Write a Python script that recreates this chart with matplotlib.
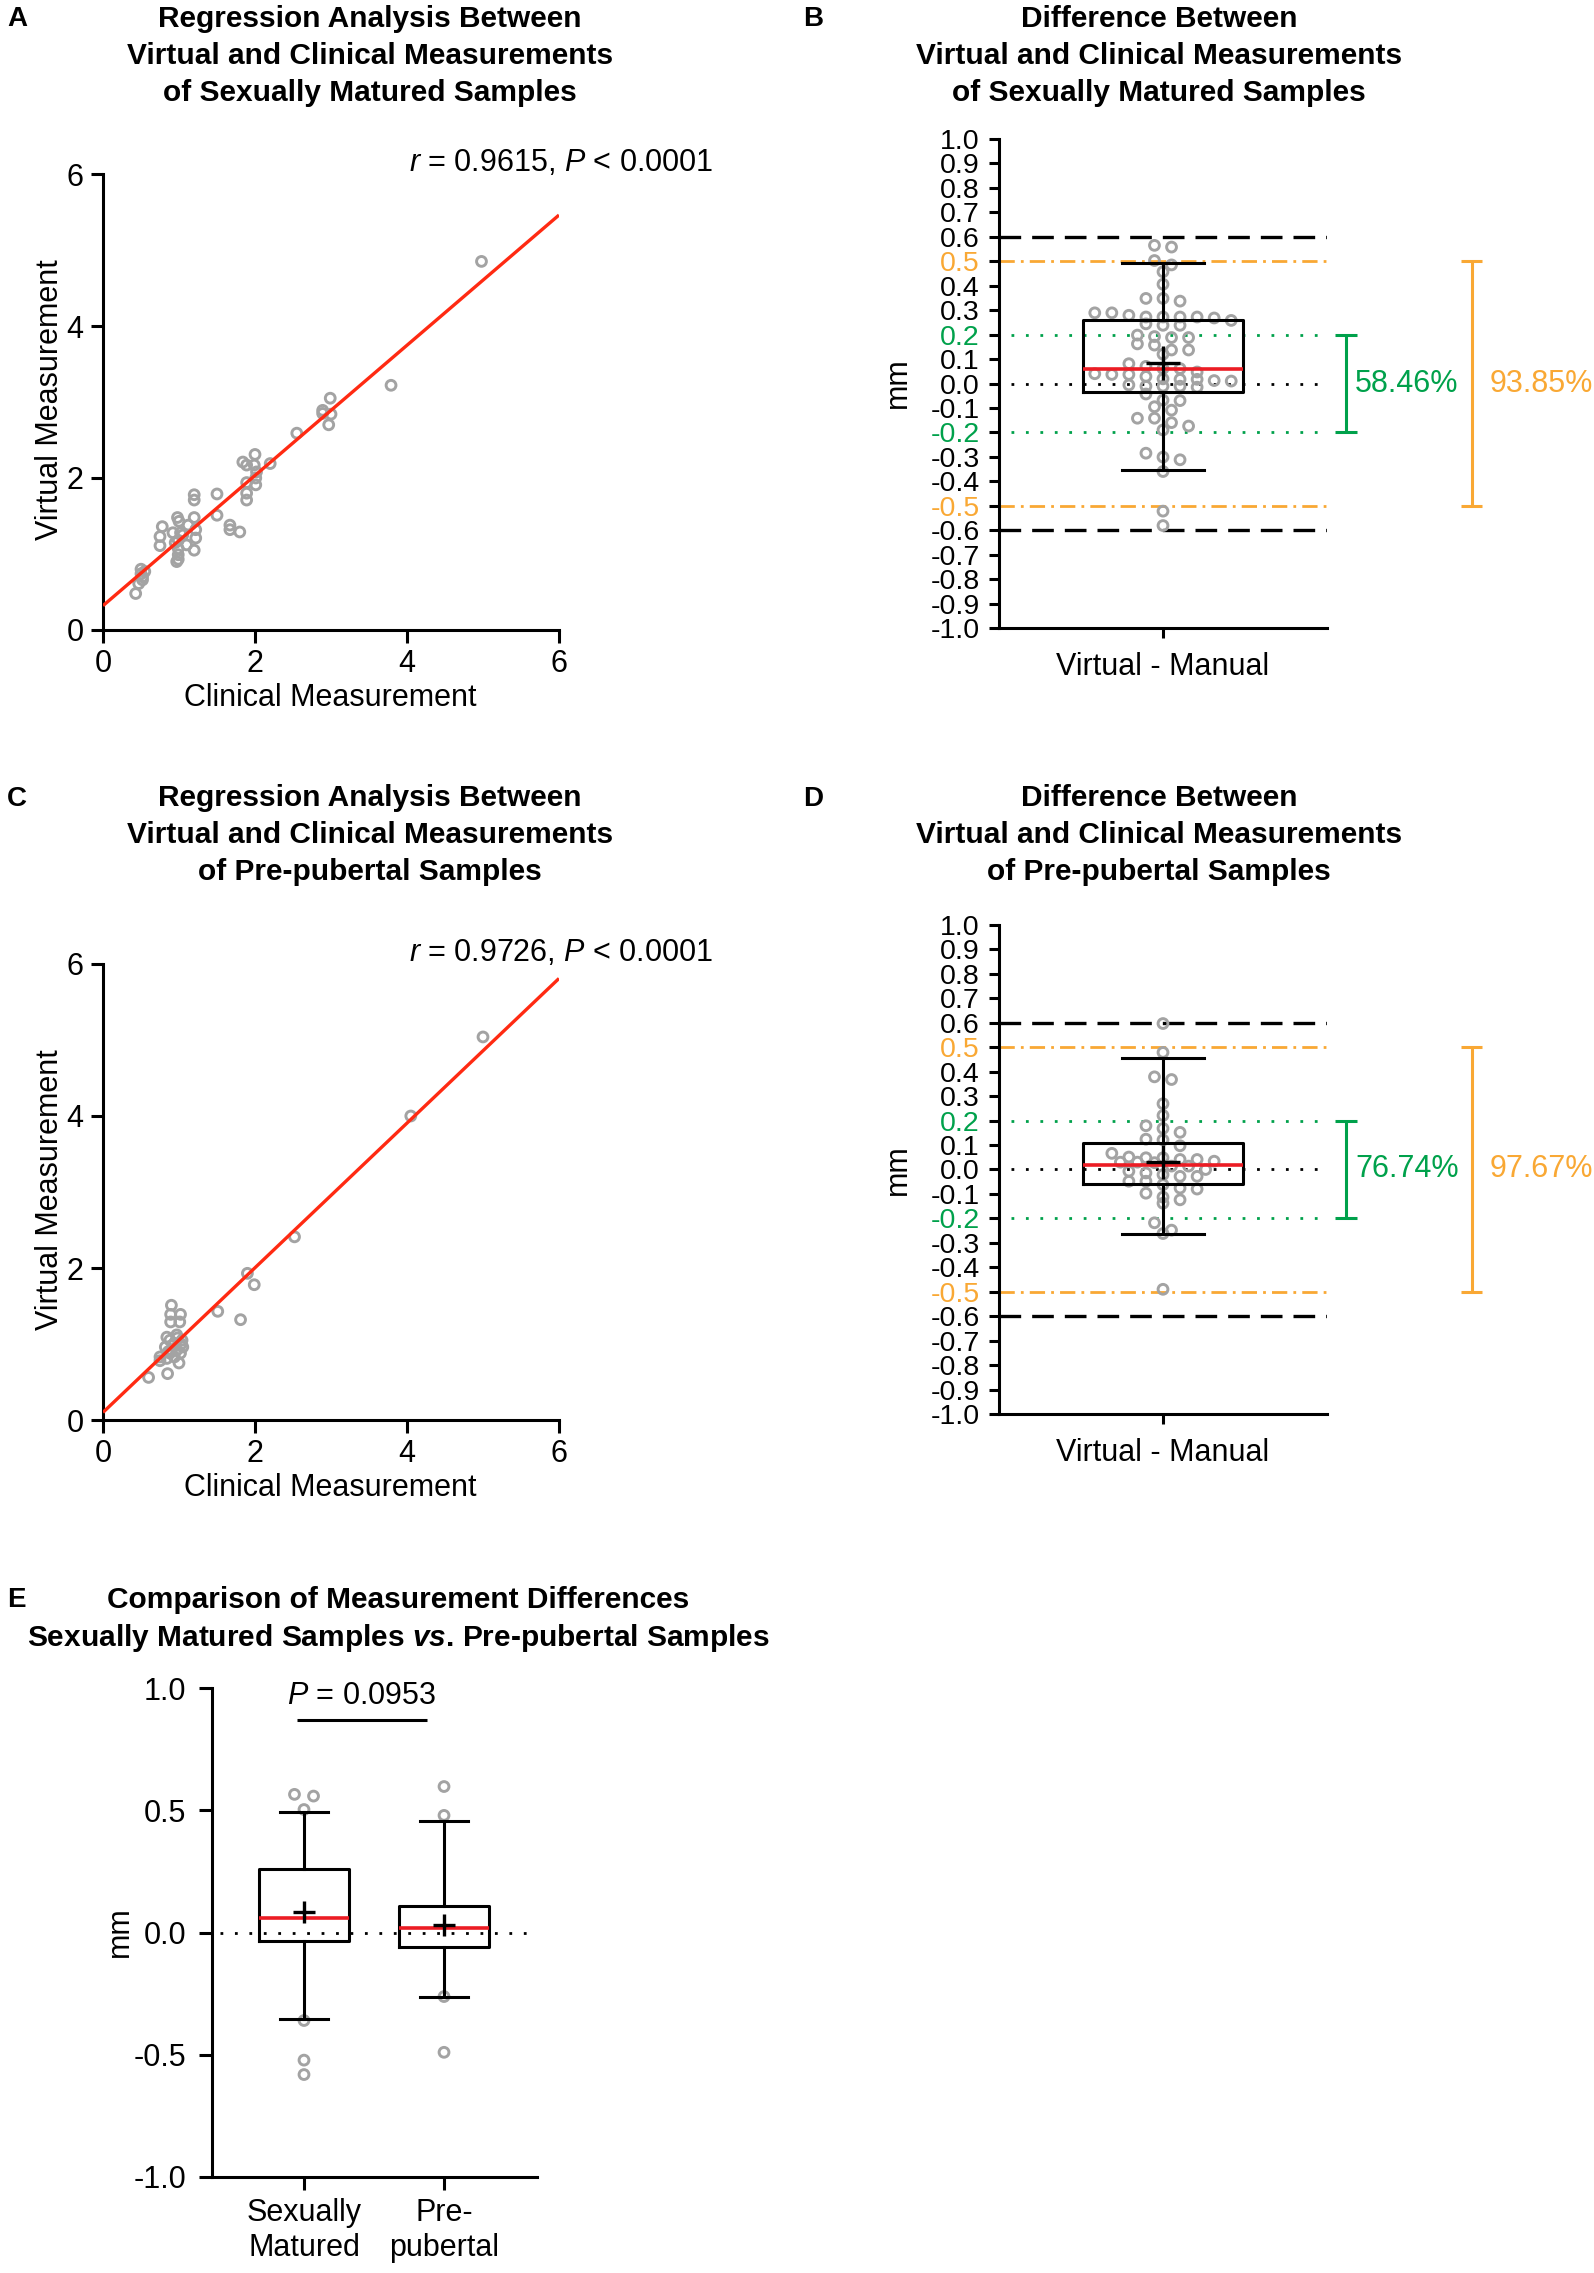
import numpy as np
import matplotlib
matplotlib.use('Agg')
import matplotlib.pyplot as plt

plt.rcParams['font.family'] = ['Liberation Sans', 'DejaVu Sans']
plt.rcParams['mathtext.fontset'] = 'custom'
plt.rcParams['mathtext.rm'] = 'Liberation Sans'
plt.rcParams['mathtext.it'] = 'Liberation Sans:italic'
plt.rcParams['mathtext.bf'] = 'Liberation Sans:bold'
plt.rcParams['mathtext.bfit'] = 'Liberation Sans:italic:bold'

# ---------------- data ----------------
# Panel A: sexually matured, clinical vs virtual
clin_a = [4.98, 3.79, 2.99, 2.89, 2.89, 3.00, 2.97, 2.55, 2.20, 2.00, 1.84, 1.89, 1.99, 2.02,
          2.01, 1.89, 2.01, 1.89, 1.89, 1.50, 1.50, 1.20, 1.20, 1.67, 1.67, 1.80, 1.20, 1.22,
          1.22, 1.20, 0.98, 1.00, 1.12, 0.92, 1.02, 0.78, 0.75, 0.75, 1.10, 0.99, 0.99, 0.99,
          0.99, 0.97, 0.50, 0.50, 0.52, 0.47, 0.43, 0.55, 0.52, 1.05, 0.95]
virt_a = [4.85, 3.22, 3.05, 2.89, 2.85, 2.84, 2.70, 2.59, 2.19, 2.31, 2.21, 2.17, 2.17, 2.08,
          2.00, 1.94, 1.91, 1.80, 1.71, 1.79, 1.51, 1.78, 1.71, 1.38, 1.32, 1.29, 1.48, 1.32,
          1.21, 1.05, 1.48, 1.43, 1.38, 1.28, 1.28, 1.36, 1.23, 1.11, 1.12, 1.18, 1.07, 0.99,
          0.93, 0.90, 0.80, 0.74, 0.66, 0.61, 0.48, 0.77, 0.70, 1.25, 1.15]
fit_x = [0, 6]
fit_a = [0.32, 5.46]
r_text_a = r'$\mathit{r}$ = 0.9615, $\mathit{P}$ < 0.0001'

# Panel C: pre-pubertal, clinical vs virtual
clin_c = [5.00, 4.05, 2.52, 1.90, 1.99, 1.51, 1.81, 0.90, 0.89, 1.02, 0.89, 1.01, 0.84, 0.97,
          0.88, 1.04, 0.82, 0.94, 1.05, 0.97, 0.88, 1.02, 0.75, 0.75, 0.84, 0.94, 1.00, 0.85,
          0.60, 0.92, 0.98, 0.86, 1.03]
virt_c = [5.04, 4.00, 2.41, 1.93, 1.78, 1.43, 1.32, 1.51, 1.39, 1.39, 1.29, 1.29, 1.09, 1.12,
          1.05, 1.05, 0.96, 1.01, 0.96, 0.92, 0.88, 0.88, 0.83, 0.78, 0.81, 0.83, 0.75, 0.61,
          0.56, 0.98, 1.08, 0.90, 1.00]
fit_c = [0.10, 5.81]
r_text_c = r'$\mathit{r}$ = 0.9726, $\mathit{P}$ < 0.0001'

# Panel B: differences (virtual - manual), sexually matured
diff_b = [0.558, 0.565, 0.503, 0.485, 0.457, 0.406, 0.348, 0.337, 0.348,
          0.272, 0.272, 0.272, 0.279, 0.289, 0.268, 0.289, 0.258, 0.272,
          0.238, 0.238, 0.244,
          0.188, 0.198, 0.192, 0.188,
          0.162, 0.157, 0.137, 0.137,
          0.120,
          0.061, 0.070, 0.061, 0.081,
          0.037, 0.047, 0.040, 0.029, 0.037,
          0.019, 0.012, 0.010, 0.017, 0.017,
          -0.011, -0.015, -0.006, -0.011, -0.011,
          -0.043,
          -0.068, -0.070,
          -0.109, -0.095,
          -0.142, -0.142,
          -0.174, -0.160,
          -0.190,
          -0.285,
          -0.312, -0.301,
          -0.360,
          -0.522, -0.581]
# Panel D: differences, pre-pubertal
diff_d = [0.597, 0.479, 0.368, 0.379, 0.269, 0.221, 0.179, 0.168, 0.152, 0.124, 0.121, 0.097,
          0.066, 0.048,
          0.051, 0.041, 0.041, 0.028, 0.034, 0.014, 0.030, 0.048, 0.030,
          0.014, -0.014,
          0.000, -0.007,
          -0.028, -0.021, -0.028,
          -0.048, -0.062, -0.048,
          -0.080, -0.076, -0.097,
          -0.124, -0.113, -0.138,
          -0.218,
          -0.262, -0.248,
          -0.490]

# box statistics: q1, median, q3, mean, lower whisker, upper whisker
box_matured = dict(q1=-0.035, med=0.058, q3=0.258, mean=0.082, whislo=-0.352, whishi=0.493)
box_pre = dict(q1=-0.059, med=0.019, q3=0.110, mean=0.030, whislo=-0.263, whishi=0.455)

pct_b = ['58.46%', '93.85%']
pct_d = ['76.74%', '97.67%']
limit_green = 0.2
limit_orange = 0.5
limit_black = 0.6

groups_e = ['Sexually\nMatured', 'Pre-\npubertal']
fliers_matured = [0.565, 0.558, 0.503, -0.360, -0.522, -0.581]
fliers_pre = [0.597, 0.479, -0.262, -0.490]
p_text_e = r'$\mathit{P}$ = 0.0953'

ticks_reg = [0, 2, 4, 6]
ticks_diff = np.round(np.linspace(-1, 1, 21), 1)
ticks_e = [-1.0, -0.5, 0.0, 0.5, 1.0]

# ---------------- style ----------------
GRAY = '#a3a3a3'
RED_FIT = '#ff2a12'
RED_MED = '#ec1c24'
GREEN = '#00a14b'
ORANGE = '#f9a834'
LW = 2.2
MS = 50      # marker area (pt^2)
MLW = 2.1    # marker edge width

W, H = 1594, 2273
fig = plt.figure(figsize=(W / 100, H / 100), dpi=100)


def add_ax(x0, y0, x1, y1):
    return fig.add_axes([x0 / W, 1 - y1 / H, (x1 - x0) / W, (y1 - y0) / H])


def ftext(x, y, s, **kw):
    return fig.text(x / W, 1 - y / H, s, **kw)


def style(ax, tick_len, pad, labelsize):
    for s in ['top', 'right']:
        ax.spines[s].set_visible(False)
    for s in ['left', 'bottom']:
        ax.spines[s].set_linewidth(LW)
        ax.spines[s].set_capstyle('projecting')
    ax.tick_params(width=LW, length=tick_len, color='k', direction='out',
                   pad=pad, labelsize=labelsize)


def fmt(v):
    return f'{v + 0.0:.1f}'


def row_offsets(vals, binh, step):
    vals = np.asarray(vals, float)
    order = np.argsort(-vals, kind='stable')
    offs = np.zeros_like(vals)
    rows, row, top = [], [], None
    for idx in order:
        if top is None or top - vals[idx] > binh:
            if row:
                rows.append(row)
            row, top = [idx], vals[idx]
        else:
            row.append(idx)
    if row:
        rows.append(row)
    for r in rows:
        n = len(r)
        for i, idx in enumerate(r):
            offs[idx] = (i - (n - 1) / 2) * step
    return offs


def title(cx, baselines, lines, size=21.5):
    for yb, s in zip(baselines, lines):
        ftext(cx, yb, s, ha='center', va='baseline', fontsize=size, fontweight='bold')


def regression(box, xs, ys, fit, rtext, rpos, xlab_pos, ylab_pos):
    ax = add_ax(*box)
    ax.scatter(xs, ys, s=MS, facecolors='none', edgecolors=GRAY, linewidths=MLW,
               zorder=3, clip_on=False)
    ax.plot(fit_x, fit, color=RED_FIT, lw=2.4, zorder=4, solid_capstyle='butt')
    ax.set_xlim(0, 6)
    ax.set_ylim(0, 6)
    ax.set_xticks(ticks_reg)
    ax.set_yticks(ticks_reg)
    ax.set_xticklabels([str(t) for t in ticks_reg])
    ax.set_yticklabels([str(t) for t in ticks_reg])
    style(ax, 9, 5, 22)
    ftext(rpos[0], rpos[1], rtext, ha='right', va='baseline', fontsize=22)
    ftext(xlab_pos[0], xlab_pos[1], 'Clinical Measurement', ha='center', va='baseline', fontsize=22)
    ftext(ylab_pos[0], ylab_pos[1], 'Virtual Measurement', ha='center', va='center',
          rotation=90, fontsize=22)
    return ax


def bracket(ax, x, y0, y1, half, color):
    kw = dict(color=color, lw=LW, clip_on=False, solid_capstyle='butt')
    ax.plot([x, x], [y0, y1], **kw)
    ax.plot([x - half, x + half], [y0, y0], **kw)
    ax.plot([x - half, x + half], [y1, y1], **kw)


def difference(box, diffs, stats, pcts, mm_pos):
    ax = add_ax(*box)
    ax.set_xlim(-1, 1)
    ax.set_ylim(-1, 1)
    # reference lines
    for v in (limit_black, -limit_black):
        ax.axhline(v, color='k', lw=2.4, ls=(0, (6.5, 3.3)), zorder=1, dash_capstyle='butt')
    for v in (limit_orange, -limit_orange):
        ax.axhline(v, color=ORANGE, lw=2.0, ls=(0, (5.5, 2.2, 1.0, 2.2)), zorder=1,
                   dash_capstyle='butt')
    for v in (limit_green, -limit_green):
        ax.axhline(v, color=GREEN, lw=2.0, ls=(0, (1.0, 4.2)), xmin=0.036, xmax=0.988,
                   zorder=1, dash_capstyle='butt')
    ax.axhline(0, color='k', lw=2.0, ls=(0, (1.0, 4.2)), xmin=0.036, xmax=0.988,
               zorder=1, dash_capstyle='butt')
    offs = row_offsets(diffs, 0.035, 0.104)
    ax.scatter(offs, diffs, s=MS, facecolors='none', edgecolors=GRAY, linewidths=MLW, zorder=2)
    st = dict(stats)
    st['fliers'] = []
    ax.bxp([st], positions=[0], widths=0.98, showmeans=True, showfliers=False,
           capwidths=0.5, manage_ticks=False, zorder=3,
           boxprops=dict(color='k', lw=LW),
           whiskerprops=dict(color='k', lw=LW),
           capprops=dict(color='k', lw=LW),
           medianprops=dict(color=RED_MED, lw=2.6, solid_capstyle='butt'),
           meanprops=dict(marker='+', markersize=24, markeredgewidth=2.4,
                          markeredgecolor='k'))
    ax.set_yticks(ticks_diff)
    ax.set_yticklabels([fmt(t) for t in ticks_diff])
    cmap = {0.5: ORANGE, -0.5: ORANGE, 0.2: GREEN, -0.2: GREEN}
    for lab, t in zip(ax.get_yticklabels(), ticks_diff):
        lab.set_color(cmap.get(float(t), 'k'))
    ax.set_xticks([0])
    ax.set_xticklabels(['Virtual - Manual'], fontsize=22)
    style(ax, 7, 7, 20.5)
    ax.tick_params(axis='x', pad=10, labelsize=22)
    bracket(ax, 1.116, -limit_green, limit_green, 0.067, GREEN)
    bracket(ax, 1.884, -limit_orange, limit_orange, 0.064, ORANGE)
    ax.text(1.171, 0, pcts[0], color=GREEN, fontsize=22, ha='left', va='center', clip_on=False)
    ax.text(1.994, 0, pcts[1], color=ORANGE, fontsize=22, ha='left', va='center', clip_on=False)
    ftext(mm_pos[0], mm_pos[1], 'mm', rotation=90, ha='center', va='center', fontsize=22)
    return ax


# ---------------- panel A ----------------
ftext(7, 26, 'A', fontsize=20, fontweight='bold', va='baseline')
title(370, [27, 64, 101], ['Regression Analysis Between',
                           'Virtual and Clinical Measurements',
                           'of Sexually Matured Samples'])
regression((103, 174, 559, 630), clin_a, virt_a, fit_a, r_text_a, (713, 171), (330, 706), (50, 400))

# ---------------- panel B ----------------
ftext(803, 26, 'B', fontsize=20, fontweight='bold', va='baseline')
title(1159, [27, 64, 101], ['Difference Between',
                            'Virtual and Clinical Measurements',
                            'of Sexually Matured Samples'])
difference((999, 139, 1327, 628), diff_b, box_matured, pct_b, (898, 383))

# ---------------- panel C ----------------
ftext(7, 806, 'C', fontsize=20, fontweight='bold', va='baseline')
title(370, [806, 843, 880], ['Regression Analysis Between',
                             'Virtual and Clinical Measurements',
                             'of Pre-pubertal Samples'])
regression((103, 964, 559, 1420), clin_c, virt_c, fit_c, r_text_c, (713, 961), (330, 1496), (50, 1190))

# ---------------- panel D ----------------
ftext(803, 806, 'D', fontsize=20, fontweight='bold', va='baseline')
title(1159, [806, 843, 880], ['Difference Between',
                              'Virtual and Clinical Measurements',
                              'of Pre-pubertal Samples'])
difference((999, 925, 1327, 1414), diff_d, box_pre, pct_d, (898, 1170))

# ---------------- panel E ----------------
ftext(7, 1607, 'E', fontsize=20, fontweight='bold', va='baseline')
title(398, [1608, 1646], ['Comparison of Measurement Differences',
                          r'Sexually Matured Samples $\mathbfit{vs}$. Pre-pubertal Samples'])
axE = add_ax(212, 1688, 537, 2177)
axE.set_xlim(-0.657, 1.664)
axE.set_ylim(-1, 1)
axE.axhline(0, color='k', lw=2.0, ls=(0, (1.0, 4.2)), xmin=0.025, xmax=0.988, zorder=1,
            dash_capstyle='butt')
stats_e = []
for st in (box_matured, box_pre):
    d = dict(st)
    d['fliers'] = []
    stats_e.append(d)
axE.bxp(stats_e, positions=[0, 1], widths=0.643, showmeans=True, showfliers=False,
        capwidths=0.343, manage_ticks=False, zorder=3,
        boxprops=dict(color='k', lw=LW),
        whiskerprops=dict(color='k', lw=LW),
        capprops=dict(color='k', lw=LW),
        medianprops=dict(color=RED_MED, lw=2.6, solid_capstyle='butt'),
        meanprops=dict(marker='+', markersize=16, markeredgewidth=2.4, markeredgecolor='k'))
for pos, fl in zip([0, 1], [fliers_matured, fliers_pre]):
    offs = row_offsets(fl, 0.03, 0.136)
    axE.scatter(pos + offs, fl, s=MS, facecolors='none', edgecolors=GRAY, linewidths=MLW,
                zorder=2, clip_on=False)
axE.set_yticks(ticks_e)
axE.set_yticklabels([fmt(t) for t in ticks_e])
axE.set_xticks([0, 1])
axE.set_xticklabels(groups_e)
style(axE, 9.4, 9, 22)
axE.tick_params(axis='x', pad=6)
axE.plot([-0.05, 0.88], [0.87, 0.87], color='k', lw=LW, clip_on=False, solid_capstyle='butt')
axE.text(0.41, 0.935, p_text_e, ha='center', va='baseline', fontsize=22, clip_on=False)
ftext(120, 1932, 'mm', rotation=90, ha='center', va='center', fontsize=22)

fig.savefig('out.png', dpi=100)
